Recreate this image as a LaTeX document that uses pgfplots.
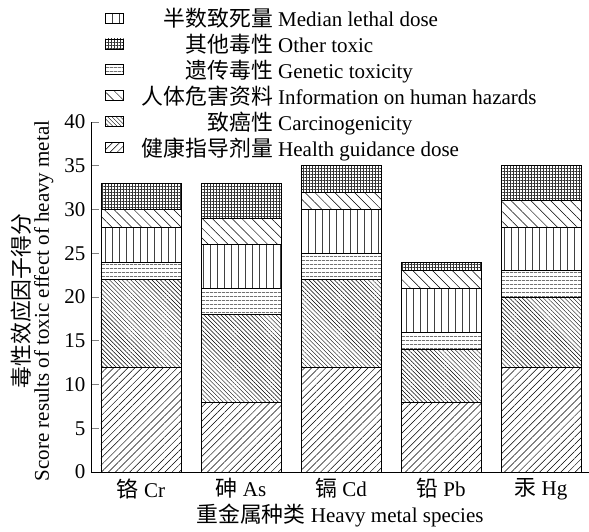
\documentclass[border=0pt]{standalone}
\usepackage{pgfplots}
\pgfplotsset{compat=1.18}
\usetikzlibrary{patterns.meta}
\usepackage{fontspec}
\setmainfont{Liberation Serif}
\newfontfamily\cjk[Scale=1.04]{Noto Sans CJK SC}

\newcommand{\bigfont}{\fontsize{21}{24}\selectfont}
\newcommand{\leg}[2]{\makebox[7em][r]{\cjk #1}\ #2}

\tikzset{
  health/.style={fill=white, draw=black, line width=0.8pt,
    postaction={pattern={Lines[angle=45,distance=5pt,line width=0.5pt]}}},
  carcino/.style={fill=white, draw=black, line width=0.8pt,
    postaction={pattern={Lines[angle=-45,distance=3pt,line width=0.45pt]}}},
  genetic/.style={fill=white, draw=black, line width=0.8pt,
    postaction={pattern={Lines[angle=0,distance=4pt,line width=0.55pt]}, pattern color=black!85}},
  median/.style={fill=white, draw=black, line width=0.8pt,
    postaction={pattern={Lines[angle=90,distance=7pt,line width=0.6pt]}, pattern color=black!75}},
  info/.style={fill=white, draw=black, line width=0.8pt,
    postaction={pattern={Lines[angle=-45,distance=7pt,line width=0.5pt]}}},
  other/.style={fill=white, draw=black, line width=0.8pt,
    postaction={pattern={Hatch[angle=0,distance=3pt,line width=0.4pt]}, pattern color=black!80}},
}
\pgfplotsset{
  boxleg/.style={legend image code/.code={\draw[##1] (0pt,-5pt) rectangle (18pt,5pt);}},
}

\begin{document}
\begin{tikzpicture}
\begin{axis}[
  name=ax,
  width=498pt, height=350pt, scale only axis,
  ybar stacked, bar width=80pt,
  xmin=-0.5, xmax=4.48, ymin=0, ymax=40,
  axis x line*=bottom, axis y line*=left,
  axis line style={line width=0.8pt},
  xtick={0,...,4},
  xticklabels={{\cjk 铬} Cr, {\cjk 砷} As, {\cjk 镉} Cd, {\cjk 铅} Pb, {\cjk 汞} Hg},
  xtick style={draw=none},
  ytick={0,5,...,40},
  tick align=inside, major tick length=8pt,
  ytick style={line width=0.8pt},
  /pgf/number format/assume math mode=true,
  tick label style={font=\bigfont},
  yticklabel style={xshift=-2pt},
  xticklabel style={yshift=-3pt},
  xlabel={{\cjk 重金属种类} Heavy metal species},
  ylabel={{\cjk 毒性效应因子得分}\\[-5pt]Score results of toxic effect of heavy metal},
  label style={font=\bigfont},
  xlabel style={yshift=3pt},
  ylabel style={align=center, at={([xshift=-58.5pt,yshift=-4pt]axis description cs:0,0.5)}, anchor=center},
  legend cell align=left,
  legend style={draw=none, fill=none, at={(0,1)}, anchor=north west,
    xshift=11pt, yshift=118pt, font=\bigfont, row sep=2pt},
]
\addplot[health, forget plot] coordinates {(0,12) (1,8) (2,12) (3,8) (4,12)};
\addplot[carcino, forget plot] coordinates {(0,10) (1,10) (2,10) (3,6) (4,8)};
\addplot[genetic, forget plot] coordinates {(0,2) (1,3) (2,3) (3,2) (4,3)};
\addplot[median, forget plot] coordinates {(0,4) (1,5) (2,5) (3,5) (4,5)};
\addplot[info, forget plot] coordinates {(0,2) (1,3) (2,2) (3,2) (4,3)};
\addplot[other, forget plot] coordinates {(0,3) (1,4) (2,3) (3,1) (4,4)};

\addlegendimage{boxleg, median}
\addlegendentry{\leg{半数致死量}{Median lethal dose}}
\addlegendimage{boxleg, other}
\addlegendentry{\leg{其他毒性}{Other toxic}}
\addlegendimage{boxleg, genetic}
\addlegendentry{\leg{遗传毒性}{Genetic toxicity}}
\addlegendimage{boxleg, info}
\addlegendentry{\leg{人体危害资料}{Information on human hazards}}
\addlegendimage{boxleg, carcino}
\addlegendentry{\leg{致癌性}{Carcinogenicity}}
\addlegendimage{boxleg, health}
\addlegendentry{\leg{健康指导剂量}{Health guidance dose}}
\end{axis}
\pgfresetboundingbox
\path ([shift={(-91pt,-59pt)}]ax.south west) rectangle ([shift={(0pt,122pt)}]ax.north east);
\end{tikzpicture}
\end{document}
